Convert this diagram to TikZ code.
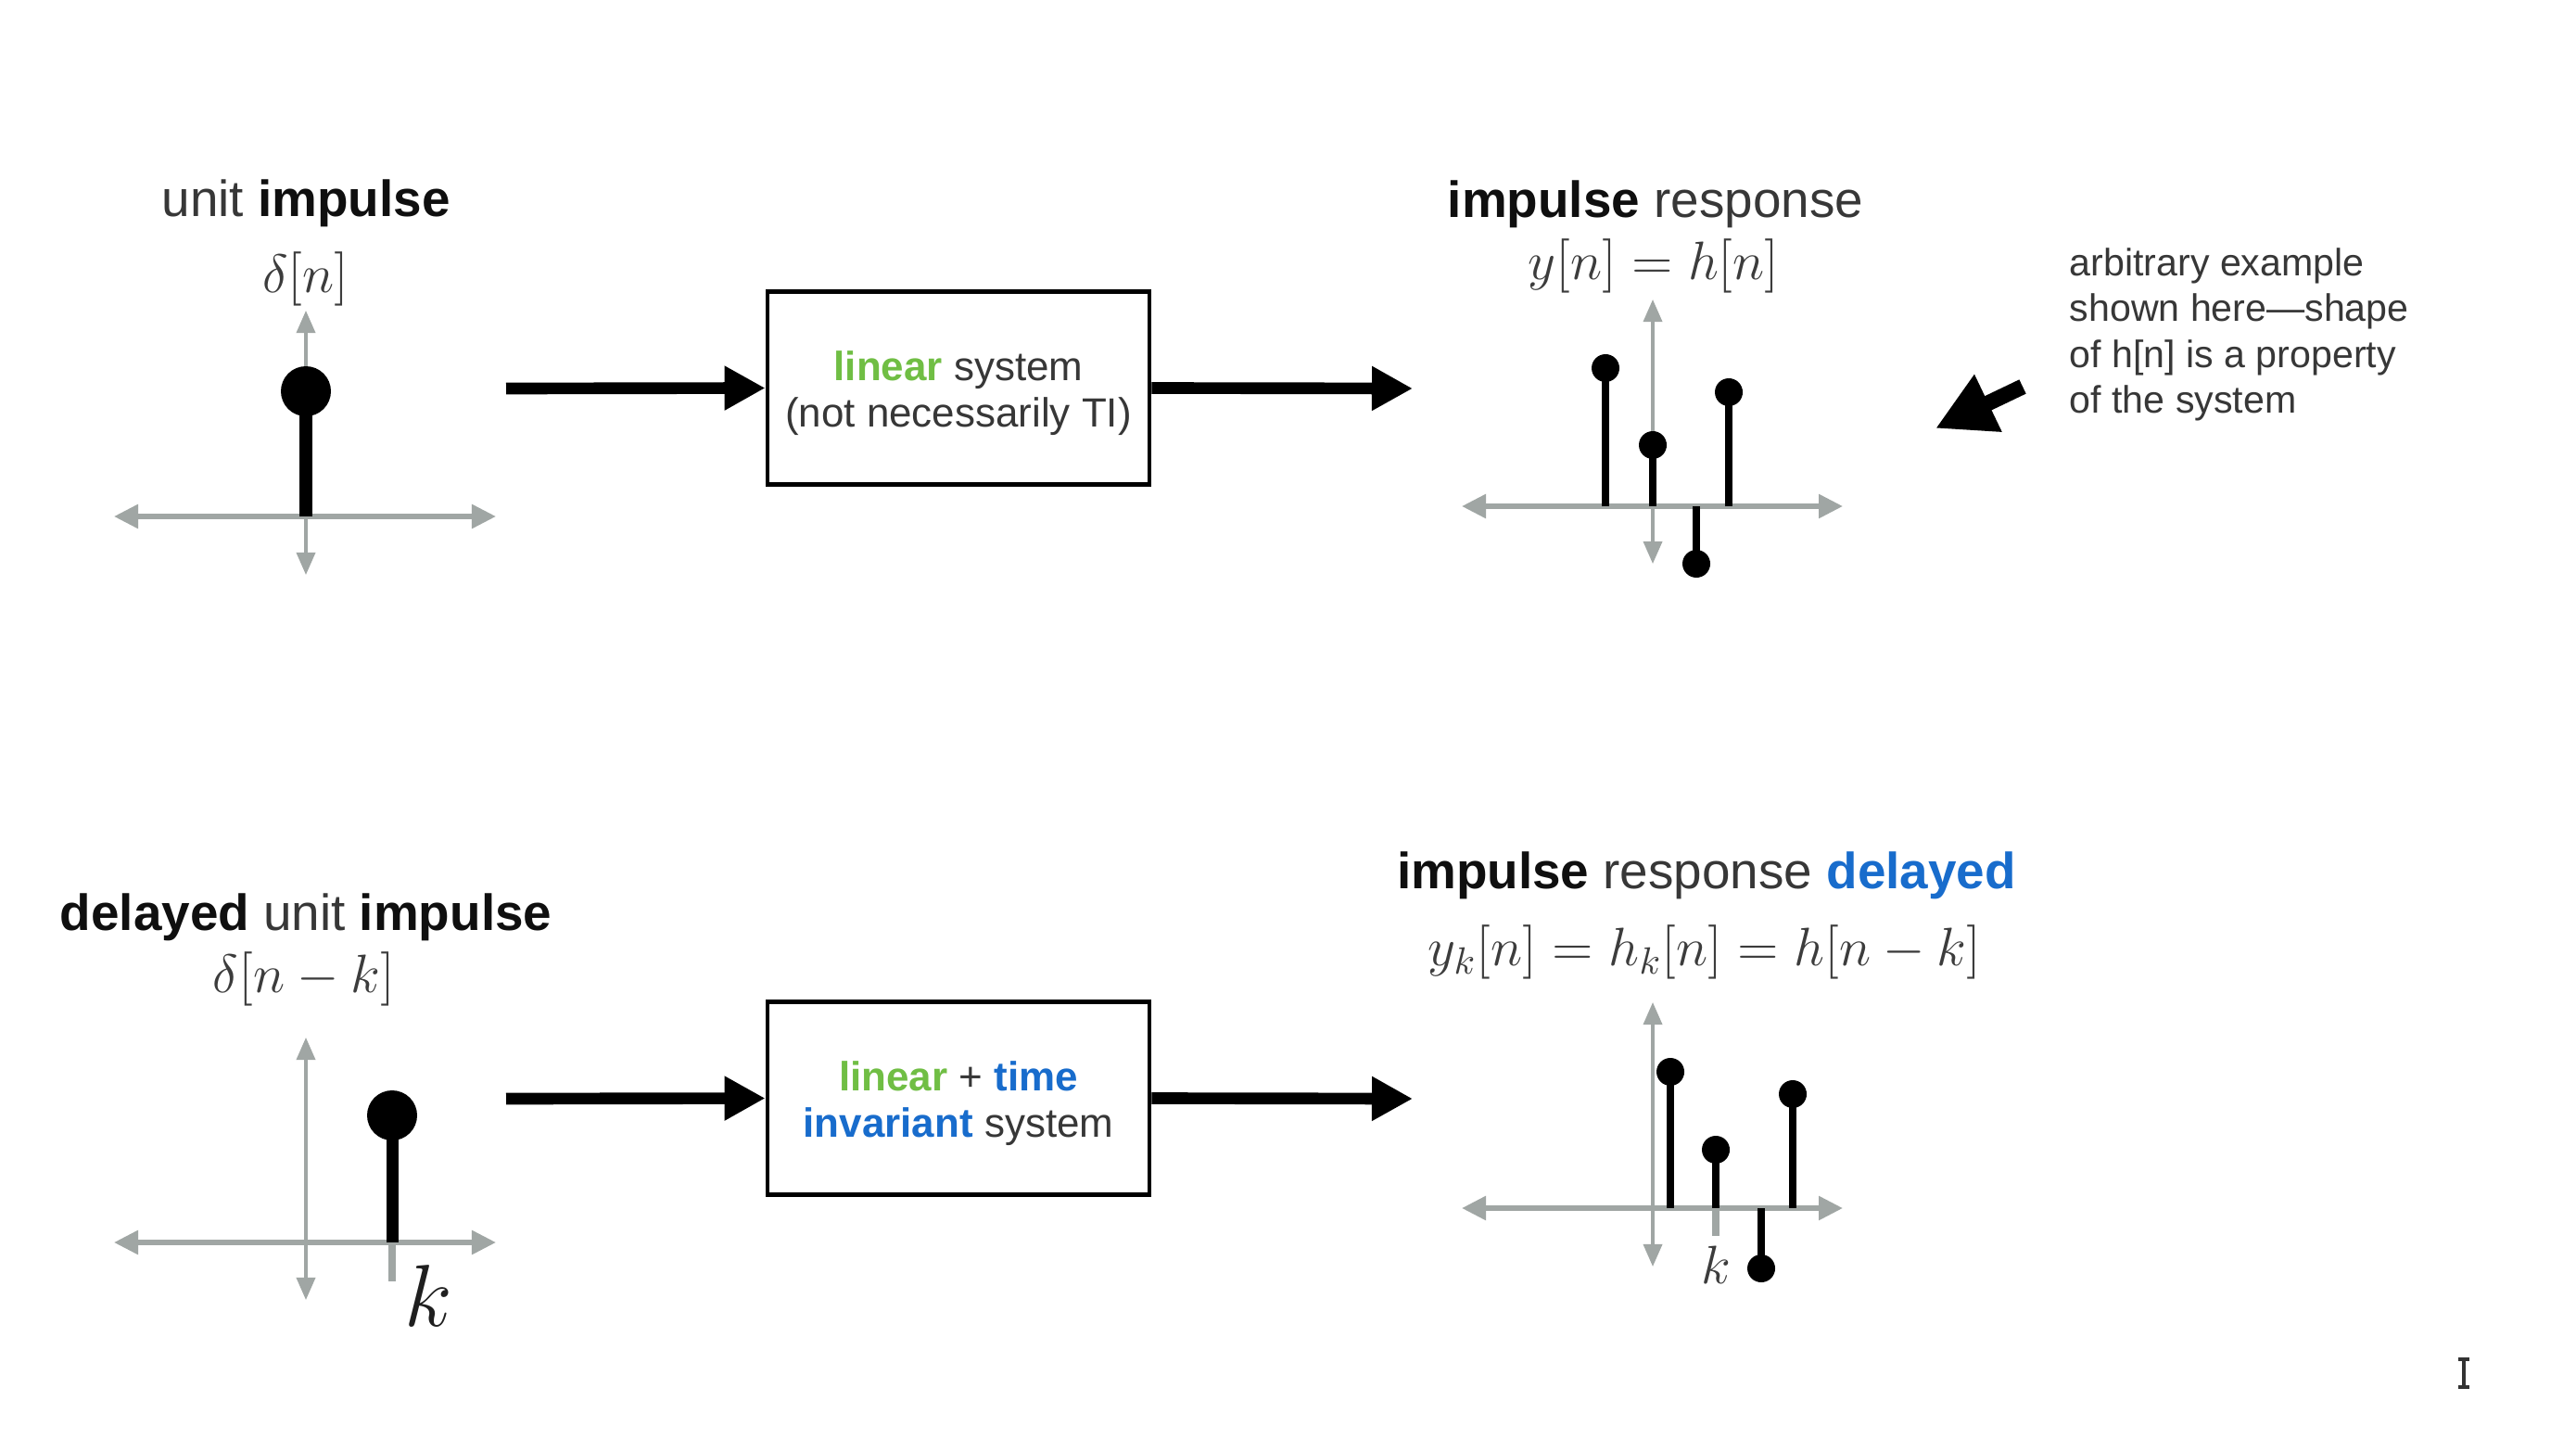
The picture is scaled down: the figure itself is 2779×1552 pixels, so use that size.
\RequirePackage{fix-cm}
\documentclass[tikz,border=0pt]{standalone}
\usepackage[no-math]{fontspec}
\setmainfont{Liberation Sans}
\usetikzlibrary{arrows.meta}
\definecolor{txt}{RGB}{55,55,55}
\definecolor{boldc}{RGB}{15,15,15}
\definecolor{mathc}{RGB}{60,60,60}
\definecolor{axisc}{RGB}{160,166,164}
\definecolor{lgreen}{RGB}{112,190,68}
\definecolor{tblue}{RGB}{24,108,204}
\newcommand{\bk}[1]{\textcolor{boldc}{\textbf{#1}}}
\begin{document}
\begin{tikzpicture}[x=0.01cm,y=-0.01cm,
  title/.style={font=\fontsize{15.6}{18}\selectfont, text=txt, inner sep=0pt},
  eqn/.style={font=\fontsize{16.6}{19}\selectfont, text=mathc, inner sep=0pt},
  sidetxt/.style={font=\fontsize{11.7}{14.03}\selectfont, text=txt, inner sep=0pt, align=left},
  sysbox/.style={draw=black, line width=1.3pt, minimum width=4.12cm, minimum height=2.08cm, inner sep=0pt},
  systxt/.style={align=center, font=\fontsize{12.5}{14.2}\selectfont, text=txt, inner sep=0pt},
  flow/.style={line width=3.6pt, -{Triangle[length=0.44cm,width=0.45cm]}},
  hax/.style={draw=axisc, line width=1.6pt,
    {Triangle[length=0.26cm,width=0.25cm]}-{Triangle[length=0.26cm,width=0.25cm]}},
  vax/.style={draw=axisc, line width=1pt,
    {Triangle[length=0.24cm,width=0.2cm]}-{Triangle[length=0.24cm,width=0.2cm]}},
  bigstem/.style={line width=3.7pt, line cap=butt},
  smallstem/.style={line width=2.2pt, line cap=butt},
  stub/.style={draw=axisc, line width=2.3pt, line cap=butt}
]
\useasboundingbox[fill=white] (0,0) rectangle (2779,1552);

% ---------- top left: unit impulse ----------
\node[title] (t1) at (330,219) {unit \bk{impulse}};
\node[eqn] (e1) at (330,301) {$\delta[n]$};
\draw[hax] (123,557) -- (535,557);
\draw[vax] (330,620) -- (330,335);
\draw[bigstem] (330,557) -- (330,422);
\fill (330,422) circle[radius=27];

% ---------- top system ----------
\coordinate (a1s) at (546,419);
\node[sysbox] (sys1) at (1034,418.5) {};
\node[systxt] (sys1t) at (1034,424) {\textcolor{lgreen}{\textbf{linear}} system\\(not necessarily TI)};
\coordinate (a2e) at (1524,419);
\draw[flow] (a1s) -- (sys1.west);
\draw[flow] (sys1.east) -- (a2e);

% ---------- top right: impulse response ----------
\node[title] (t2) at (1786,220) {\bk{impulse} response};
\node[eqn] (e2) at (1784,287) {$y[n]=h[n]$};
\draw[hax] (1577,546) -- (1988,546);
\draw[vax] (1783,608) -- (1783,323);
\draw[smallstem] (1732,546) -- (1732,397);
\draw[smallstem] (1783,546) -- (1783,480);
\draw[smallstem] (1865,546) -- (1865,423);
\draw[smallstem] (1830,546) -- (1830,608);
\fill (1732,397) circle[radius=15];
\fill (1783,480) circle[radius=15];
\fill (1865,423) circle[radius=15];
\fill (1830,608) circle[radius=15];

% ---------- note ----------
\node[sidetxt, anchor=west] (note) at (2232,361) {arbitrary example\\shown here—shape\\of h[n] is a property\\of the system};
\coordinate (nt) at (2182,417);
\coordinate (nh) at (2088,462);
\draw[line width=4.8pt, -{Triangle[length=0.63cm,width=0.64cm]}] (nt) -- (nh);

% ---------- bottom left: delayed unit impulse ----------
\node[title] (t3) at (330,989) {\bk{delayed} unit \bk{impulse}};
\node[eqn] (e3) at (328,1056) {$\delta[n-k]$};
\draw[hax] (123,1340) -- (535,1340);
\draw[vax] (330,1402) -- (330,1119);
\draw[stub] (423,1340) -- (423,1382);
\draw[bigstem] (423,1340) -- (423,1203);
\fill (423,1203) circle[radius=27];
\node[font=\fontsize{27}{30}\selectfont, text=black!88, inner sep=0pt] (k1) at (462,1398) {$k$};

% ---------- bottom system ----------
\coordinate (a3s) at (546,1185);
\node[sysbox] (sys2) at (1034,1184.5) {};
\node[systxt] (sys2t) at (1034,1190) {\textcolor{lgreen}{\textbf{linear}} + \textcolor{tblue}{\textbf{time}}\\\textcolor{tblue}{\textbf{invariant}} system};
\coordinate (a4e) at (1524,1185);
\draw[flow] (a3s) -- (sys2.west);
\draw[flow] (sys2.east) -- (a4e);

% ---------- bottom right: delayed impulse response ----------
\node[title] (t4) at (1841,944) {\bk{impulse} response \textcolor{tblue}{\textbf{delayed}}};
\node[eqn] (e4) at (1839,1027) {$y_k[n]=h_k[n]=h[n-k]$};
\draw[hax] (1577,1303) -- (1988,1303);
\draw[vax] (1783,1366) -- (1783,1081);
\draw[stub] (1851,1303) -- (1851,1333);
\draw[smallstem] (1802,1303) -- (1802,1156);
\draw[smallstem] (1851,1303) -- (1851,1240);
\draw[smallstem] (1934,1303) -- (1934,1180);
\draw[smallstem] (1900,1303) -- (1900,1368);
\fill (1802,1156) circle[radius=15];
\fill (1851,1240) circle[radius=15];
\fill (1934,1180) circle[radius=15];
\fill (1900,1368) circle[radius=15];
\node[eqn] (k2) at (1851,1364) {$k$};

% ---------- text cursor ----------
\draw[line width=0.9pt, draw=black!80] (2658,1466) -- (2658,1496);
\draw[line width=0.9pt, draw=black!80] (2652,1466) -- (2664,1466);
\draw[line width=0.9pt, draw=black!80] (2652,1496) -- (2664,1496);
\end{tikzpicture}
\end{document}
